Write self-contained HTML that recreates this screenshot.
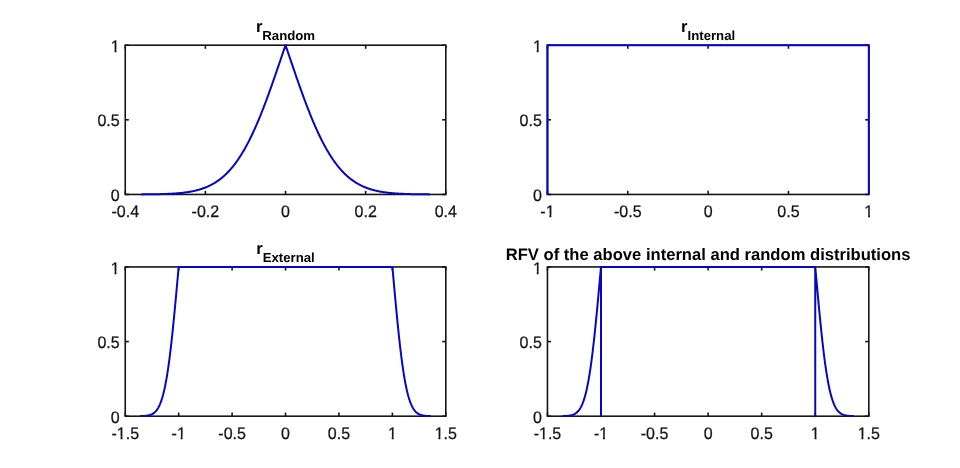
<!DOCTYPE html>
<html><head><meta charset="utf-8"><style>
html,body{margin:0;padding:0;background:#fff;width:960px;height:468px;overflow:hidden}
svg{display:block}
.k{stroke:#151515;stroke-width:1.6}
.bx{fill:none;stroke:#151515;stroke-width:1.6}
.b{fill:none;stroke:#0606c8;stroke-width:2.0;stroke-linejoin:round}
.tk{font-family:"Liberation Sans",sans-serif;font-size:16.0px;font-kerning:none;text-rendering:geometricPrecision;fill:#151515;stroke:#151515;stroke-width:0.25}
.ttp{fill:#000}
.tt{font-family:"Liberation Sans",sans-serif;font-size:16.6px;font-weight:bold;font-kerning:none;text-rendering:geometricPrecision;fill:#000}
.txt{opacity:0.999}
.sub{font-size:13.2px}
</style></head><body>
<svg width="960" height="468" viewBox="0 0 960 468">
<defs><clipPath id="c0"><path d="M-12.90 -20.00H4.00V6.00H-12.90ZM-8.88 -2.10H-5.09V3.00H-8.88ZM-3.24 -2.10H0.42V3.00H-3.24Z" clip-rule="evenodd"/></clipPath><clipPath id="c1"><path d="M-11.11 -20.00H11.11V6.00H-11.11ZM-1.77 -2.10H2.02V3.00H-1.77ZM3.87 -2.10H7.53V3.00H3.87Z" clip-rule="evenodd"/></clipPath><clipPath id="c2"><path d="M-8.45 -20.00H8.45V6.00H-8.45ZM-4.43 -2.10H-0.65V3.00H-4.43ZM1.21 -2.10H4.87V3.00H1.21Z" clip-rule="evenodd"/></clipPath><clipPath id="c3"><path d="M-12.90 -20.00H4.00V6.00H-12.90ZM-8.88 -2.10H-5.09V3.00H-8.88ZM-3.24 -2.10H0.42V3.00H-3.24Z" clip-rule="evenodd"/></clipPath><clipPath id="c4"><path d="M-17.79 -20.00H17.79V6.00H-17.79ZM-8.44 -2.10H-4.65V3.00H-8.44ZM-2.80 -2.10H0.86V3.00H-2.80Z" clip-rule="evenodd"/></clipPath><clipPath id="c5"><path d="M-11.11 -20.00H11.11V6.00H-11.11ZM-1.77 -2.10H2.02V3.00H-1.77ZM3.87 -2.10H7.53V3.00H3.87Z" clip-rule="evenodd"/></clipPath><clipPath id="c6"><path d="M-8.45 -20.00H8.45V6.00H-8.45ZM-4.43 -2.10H-0.65V3.00H-4.43ZM1.21 -2.10H4.87V3.00H1.21Z" clip-rule="evenodd"/></clipPath><clipPath id="c7"><path d="M-15.12 -20.00H15.12V6.00H-15.12ZM-11.10 -2.10H-7.32V3.00H-11.10ZM-5.46 -2.10H-1.80V3.00H-5.46Z" clip-rule="evenodd"/></clipPath><clipPath id="c8"><path d="M-12.90 -20.00H4.00V6.00H-12.90ZM-8.88 -2.10H-5.09V3.00H-8.88ZM-3.24 -2.10H0.42V3.00H-3.24Z" clip-rule="evenodd"/></clipPath><clipPath id="c9"><path d="M-17.79 -20.00H17.79V6.00H-17.79ZM-8.44 -2.10H-4.65V3.00H-8.44ZM-2.80 -2.10H0.86V3.00H-2.80Z" clip-rule="evenodd"/></clipPath><clipPath id="c10"><path d="M-11.11 -20.00H11.11V6.00H-11.11ZM-1.77 -2.10H2.02V3.00H-1.77ZM3.87 -2.10H7.53V3.00H3.87Z" clip-rule="evenodd"/></clipPath><clipPath id="c11"><path d="M-8.45 -20.00H8.45V6.00H-8.45ZM-4.43 -2.10H-0.65V3.00H-4.43ZM1.21 -2.10H4.87V3.00H1.21Z" clip-rule="evenodd"/></clipPath><clipPath id="c12"><path d="M-15.12 -20.00H15.12V6.00H-15.12ZM-11.10 -2.10H-7.32V3.00H-11.10ZM-5.46 -2.10H-1.80V3.00H-5.46Z" clip-rule="evenodd"/></clipPath><clipPath id="c13"><path d="M-12.90 -20.00H4.00V6.00H-12.90ZM-8.88 -2.10H-5.09V3.00H-8.88ZM-3.24 -2.10H0.42V3.00H-3.24Z" clip-rule="evenodd"/></clipPath></defs>
<rect width="960" height="468" fill="#fff"/>
<rect x="125.25" y="45.2" width="320.55" height="149.25" class="bx"/>
<line x1="125.25" y1="194.45" x2="125.25" y2="190.85" class="k"/>
<line x1="125.25" y1="45.2" x2="125.25" y2="48.800000000000004" class="k"/>
<line x1="205.39" y1="194.45" x2="205.39" y2="190.85" class="k"/>
<line x1="205.39" y1="45.2" x2="205.39" y2="48.800000000000004" class="k"/>
<line x1="285.52" y1="194.45" x2="285.52" y2="190.85" class="k"/>
<line x1="285.52" y1="45.2" x2="285.52" y2="48.800000000000004" class="k"/>
<line x1="365.66" y1="194.45" x2="365.66" y2="190.85" class="k"/>
<line x1="365.66" y1="45.2" x2="365.66" y2="48.800000000000004" class="k"/>
<line x1="445.80" y1="194.45" x2="445.80" y2="190.85" class="k"/>
<line x1="445.80" y1="45.2" x2="445.80" y2="48.800000000000004" class="k"/>
<line x1="125.25" y1="194.45" x2="128.85" y2="194.45" class="k"/>
<line x1="445.8" y1="194.45" x2="442.2" y2="194.45" class="k"/>
<line x1="125.25" y1="119.82" x2="128.85" y2="119.82" class="k"/>
<line x1="445.8" y1="119.82" x2="442.2" y2="119.82" class="k"/>
<line x1="125.25" y1="45.20" x2="128.85" y2="45.20" class="k"/>
<line x1="445.8" y1="45.20" x2="442.2" y2="45.20" class="k"/>
<rect x="547.45" y="45.2" width="321.3499999999999" height="149.25" class="bx"/>
<line x1="547.45" y1="194.45" x2="547.45" y2="190.85" class="k"/>
<line x1="547.45" y1="45.2" x2="547.45" y2="48.800000000000004" class="k"/>
<line x1="627.79" y1="194.45" x2="627.79" y2="190.85" class="k"/>
<line x1="627.79" y1="45.2" x2="627.79" y2="48.800000000000004" class="k"/>
<line x1="708.12" y1="194.45" x2="708.12" y2="190.85" class="k"/>
<line x1="708.12" y1="45.2" x2="708.12" y2="48.800000000000004" class="k"/>
<line x1="788.46" y1="194.45" x2="788.46" y2="190.85" class="k"/>
<line x1="788.46" y1="45.2" x2="788.46" y2="48.800000000000004" class="k"/>
<line x1="868.80" y1="194.45" x2="868.80" y2="190.85" class="k"/>
<line x1="868.80" y1="45.2" x2="868.80" y2="48.800000000000004" class="k"/>
<line x1="547.45" y1="194.45" x2="551.0500000000001" y2="194.45" class="k"/>
<line x1="868.8" y1="194.45" x2="865.1999999999999" y2="194.45" class="k"/>
<line x1="547.45" y1="119.82" x2="551.0500000000001" y2="119.82" class="k"/>
<line x1="868.8" y1="119.82" x2="865.1999999999999" y2="119.82" class="k"/>
<line x1="547.45" y1="45.20" x2="551.0500000000001" y2="45.20" class="k"/>
<line x1="868.8" y1="45.20" x2="865.1999999999999" y2="45.20" class="k"/>
<rect x="125.25" y="266.95" width="320.55" height="149.25" class="bx"/>
<line x1="125.25" y1="416.2" x2="125.25" y2="412.59999999999997" class="k"/>
<line x1="125.25" y1="266.95" x2="125.25" y2="270.55" class="k"/>
<line x1="178.68" y1="416.2" x2="178.68" y2="412.59999999999997" class="k"/>
<line x1="178.68" y1="266.95" x2="178.68" y2="270.55" class="k"/>
<line x1="232.10" y1="416.2" x2="232.10" y2="412.59999999999997" class="k"/>
<line x1="232.10" y1="266.95" x2="232.10" y2="270.55" class="k"/>
<line x1="285.52" y1="416.2" x2="285.52" y2="412.59999999999997" class="k"/>
<line x1="285.52" y1="266.95" x2="285.52" y2="270.55" class="k"/>
<line x1="338.95" y1="416.2" x2="338.95" y2="412.59999999999997" class="k"/>
<line x1="338.95" y1="266.95" x2="338.95" y2="270.55" class="k"/>
<line x1="392.38" y1="416.2" x2="392.38" y2="412.59999999999997" class="k"/>
<line x1="392.38" y1="266.95" x2="392.38" y2="270.55" class="k"/>
<line x1="445.80" y1="416.2" x2="445.80" y2="412.59999999999997" class="k"/>
<line x1="445.80" y1="266.95" x2="445.80" y2="270.55" class="k"/>
<line x1="125.25" y1="416.20" x2="128.85" y2="416.20" class="k"/>
<line x1="445.8" y1="416.20" x2="442.2" y2="416.20" class="k"/>
<line x1="125.25" y1="341.57" x2="128.85" y2="341.57" class="k"/>
<line x1="445.8" y1="341.57" x2="442.2" y2="341.57" class="k"/>
<line x1="125.25" y1="266.95" x2="128.85" y2="266.95" class="k"/>
<line x1="445.8" y1="266.95" x2="442.2" y2="266.95" class="k"/>
<rect x="547.45" y="266.95" width="321.3499999999999" height="149.25" class="bx"/>
<line x1="547.45" y1="416.2" x2="547.45" y2="412.59999999999997" class="k"/>
<line x1="547.45" y1="266.95" x2="547.45" y2="270.55" class="k"/>
<line x1="601.01" y1="416.2" x2="601.01" y2="412.59999999999997" class="k"/>
<line x1="601.01" y1="266.95" x2="601.01" y2="270.55" class="k"/>
<line x1="654.57" y1="416.2" x2="654.57" y2="412.59999999999997" class="k"/>
<line x1="654.57" y1="266.95" x2="654.57" y2="270.55" class="k"/>
<line x1="708.12" y1="416.2" x2="708.12" y2="412.59999999999997" class="k"/>
<line x1="708.12" y1="266.95" x2="708.12" y2="270.55" class="k"/>
<line x1="761.68" y1="416.2" x2="761.68" y2="412.59999999999997" class="k"/>
<line x1="761.68" y1="266.95" x2="761.68" y2="270.55" class="k"/>
<line x1="815.24" y1="416.2" x2="815.24" y2="412.59999999999997" class="k"/>
<line x1="815.24" y1="266.95" x2="815.24" y2="270.55" class="k"/>
<line x1="868.80" y1="416.2" x2="868.80" y2="412.59999999999997" class="k"/>
<line x1="868.80" y1="266.95" x2="868.80" y2="270.55" class="k"/>
<line x1="547.45" y1="416.20" x2="551.0500000000001" y2="416.20" class="k"/>
<line x1="868.8" y1="416.20" x2="865.1999999999999" y2="416.20" class="k"/>
<line x1="547.45" y1="341.57" x2="551.0500000000001" y2="341.57" class="k"/>
<line x1="868.8" y1="341.57" x2="865.1999999999999" y2="341.57" class="k"/>
<line x1="547.45" y1="266.95" x2="551.0500000000001" y2="266.95" class="k"/>
<line x1="868.8" y1="266.95" x2="865.1999999999999" y2="266.95" class="k"/>
<polyline points="141.28,194.38 142.00,194.38 142.72,194.37 143.44,194.37 144.16,194.36 144.88,194.36 145.60,194.35 146.33,194.35 147.05,194.34 147.77,194.33 148.49,194.33 149.21,194.32 149.93,194.31 150.65,194.30 151.37,194.29 152.10,194.28 152.82,194.27 153.54,194.26 154.26,194.25 154.98,194.24 155.70,194.22 156.42,194.21 157.14,194.20 157.87,194.18 158.59,194.17 159.31,194.15 160.03,194.13 160.75,194.11 161.47,194.09 162.19,194.07 162.91,194.05 163.64,194.03 164.36,194.00 165.08,193.98 165.80,193.95 166.52,193.92 167.24,193.90 167.96,193.86 168.68,193.83 169.41,193.80 170.13,193.76 170.85,193.72 171.57,193.69 172.29,193.64 173.01,193.60 173.73,193.56 174.45,193.51 175.18,193.46 175.90,193.41 176.62,193.35 177.34,193.29 178.06,193.23 178.78,193.17 179.50,193.10 180.22,193.04 180.95,192.96 181.67,192.89 182.39,192.81 183.11,192.73 183.83,192.64 184.55,192.55 185.27,192.46 185.99,192.36 186.72,192.26 187.44,192.15 188.16,192.04 188.88,191.92 189.60,191.80 190.32,191.68 191.04,191.55 191.76,191.41 192.49,191.27 193.21,191.12 193.93,190.96 194.65,190.80 195.37,190.64 196.09,190.46 196.81,190.28 197.53,190.09 198.26,189.90 198.98,189.70 199.70,189.49 200.42,189.27 201.14,189.04 201.86,188.81 202.58,188.56 203.30,188.31 204.03,188.05 204.75,187.78 205.47,187.49 206.19,187.20 206.91,186.90 207.63,186.59 208.35,186.26 209.07,185.93 209.80,185.58 210.52,185.22 211.24,184.85 211.96,184.47 212.68,184.07 213.40,183.66 214.12,183.24 214.84,182.81 215.56,182.36 216.29,181.89 217.01,181.41 217.73,180.92 218.45,180.41 219.17,179.89 219.89,179.35 220.61,178.79 221.33,178.22 222.06,177.63 222.78,177.02 223.50,176.39 224.22,175.75 224.94,175.09 225.66,174.41 226.38,173.71 227.10,173.00 227.83,172.26 228.55,171.50 229.27,170.73 229.99,169.93 230.71,169.11 231.43,168.28 232.15,167.42 232.87,166.54 233.60,165.64 234.32,164.71 235.04,163.77 235.76,162.80 236.48,161.81 237.20,160.80 237.92,159.76 238.64,158.70 239.37,157.62 240.09,156.52 240.81,155.39 241.53,154.23 242.25,153.06 242.97,151.85 243.69,150.63 244.41,149.38 245.14,148.11 245.86,146.81 246.58,145.49 247.30,144.14 248.02,142.77 248.74,141.37 249.46,139.95 250.18,138.51 250.91,137.04 251.63,135.55 252.35,134.03 253.07,132.49 253.79,130.93 254.51,129.34 255.23,127.73 255.95,126.10 256.68,124.44 257.40,122.76 258.12,121.06 258.84,119.34 259.56,117.59 260.28,115.83 261.00,114.04 261.72,112.23 262.45,110.40 263.17,108.55 263.89,106.69 264.61,104.80 265.33,102.90 266.05,100.98 266.77,99.04 267.49,97.09 268.22,95.12 268.94,93.13 269.66,91.13 270.38,89.12 271.10,87.10 271.82,85.06 272.54,83.01 273.26,80.95 273.99,78.88 274.71,76.80 275.43,74.72 276.15,72.62 276.87,70.52 277.59,68.42 278.31,66.31 279.03,64.20 279.76,62.08 280.48,59.97 281.20,57.85 281.92,55.73 282.64,53.62 283.36,51.51 284.08,49.40 284.80,47.30 285.52,45.20 286.25,47.30 286.97,49.40 287.69,51.51 288.41,53.62 289.13,55.73 289.85,57.85 290.57,59.97 291.29,62.08 292.02,64.20 292.74,66.31 293.46,68.42 294.18,70.52 294.90,72.62 295.62,74.72 296.34,76.80 297.06,78.88 297.79,80.95 298.51,83.01 299.23,85.06 299.95,87.10 300.67,89.12 301.39,91.13 302.11,93.13 302.83,95.12 303.56,97.09 304.28,99.04 305.00,100.98 305.72,102.90 306.44,104.80 307.16,106.69 307.88,108.55 308.60,110.40 309.33,112.23 310.05,114.04 310.77,115.83 311.49,117.59 312.21,119.34 312.93,121.06 313.65,122.76 314.37,124.44 315.10,126.10 315.82,127.73 316.54,129.34 317.26,130.93 317.98,132.49 318.70,134.03 319.42,135.55 320.14,137.04 320.87,138.51 321.59,139.95 322.31,141.37 323.03,142.77 323.75,144.14 324.47,145.49 325.19,146.81 325.91,148.11 326.64,149.38 327.36,150.63 328.08,151.85 328.80,153.06 329.52,154.23 330.24,155.39 330.96,156.52 331.68,157.62 332.41,158.70 333.13,159.76 333.85,160.80 334.57,161.81 335.29,162.80 336.01,163.77 336.73,164.71 337.45,165.64 338.18,166.54 338.90,167.42 339.62,168.28 340.34,169.11 341.06,169.93 341.78,170.73 342.50,171.50 343.22,172.26 343.95,173.00 344.67,173.71 345.39,174.41 346.11,175.09 346.83,175.75 347.55,176.39 348.27,177.02 348.99,177.63 349.72,178.22 350.44,178.79 351.16,179.35 351.88,179.89 352.60,180.41 353.32,180.92 354.04,181.41 354.76,181.89 355.49,182.36 356.21,182.81 356.93,183.24 357.65,183.66 358.37,184.07 359.09,184.47 359.81,184.85 360.53,185.22 361.25,185.58 361.98,185.93 362.70,186.26 363.42,186.59 364.14,186.90 364.86,187.20 365.58,187.49 366.30,187.78 367.02,188.05 367.75,188.31 368.47,188.56 369.19,188.81 369.91,189.04 370.63,189.27 371.35,189.49 372.07,189.70 372.79,189.90 373.52,190.09 374.24,190.28 374.96,190.46 375.68,190.64 376.40,190.80 377.12,190.96 377.84,191.12 378.56,191.27 379.29,191.41 380.01,191.55 380.73,191.68 381.45,191.80 382.17,191.92 382.89,192.04 383.61,192.15 384.33,192.26 385.06,192.36 385.78,192.46 386.50,192.55 387.22,192.64 387.94,192.73 388.66,192.81 389.38,192.89 390.10,192.96 390.83,193.04 391.55,193.10 392.27,193.17 392.99,193.23 393.71,193.29 394.43,193.35 395.15,193.41 395.87,193.46 396.60,193.51 397.32,193.56 398.04,193.60 398.76,193.64 399.48,193.69 400.20,193.72 400.92,193.76 401.64,193.80 402.37,193.83 403.09,193.86 403.81,193.90 404.53,193.92 405.25,193.95 405.97,193.98 406.69,194.00 407.41,194.03 408.14,194.05 408.86,194.07 409.58,194.09 410.30,194.11 411.02,194.13 411.74,194.15 412.46,194.17 413.18,194.18 413.91,194.20 414.63,194.21 415.35,194.22 416.07,194.24 416.79,194.25 417.51,194.26 418.23,194.27 418.95,194.28 419.68,194.29 420.40,194.30 421.12,194.31 421.84,194.32 422.56,194.33 423.28,194.33 424.00,194.34 424.72,194.35 425.45,194.35 426.17,194.36 426.89,194.36 427.61,194.37 428.33,194.37 429.05,194.38 429.77,194.38" class="b"/>
<polyline points="547.45,194.45 547.45,45.20 868.80,45.20 868.80,194.45" class="b"/>
<polyline points="140.21,416.13 140.40,416.13 140.59,416.12 140.79,416.12 140.98,416.11 141.17,416.11 141.36,416.10 141.56,416.10 141.75,416.09 141.94,416.08 142.13,416.08 142.32,416.07 142.52,416.06 142.71,416.05 142.90,416.04 143.09,416.03 143.29,416.02 143.48,416.01 143.67,416.00 143.86,415.99 144.06,415.97 144.25,415.96 144.44,415.95 144.63,415.93 144.82,415.92 145.02,415.90 145.21,415.88 145.40,415.86 145.59,415.84 145.79,415.82 145.98,415.80 146.17,415.78 146.36,415.75 146.56,415.73 146.75,415.70 146.94,415.67 147.13,415.65 147.33,415.61 147.52,415.58 147.71,415.55 147.90,415.51 148.09,415.47 148.29,415.44 148.48,415.39 148.67,415.35 148.86,415.31 149.06,415.26 149.25,415.21 149.44,415.16 149.63,415.10 149.83,415.04 150.02,414.98 150.21,414.92 150.40,414.85 150.59,414.79 150.79,414.71 150.98,414.64 151.17,414.56 151.36,414.48 151.56,414.39 151.75,414.30 151.94,414.21 152.13,414.11 152.33,414.01 152.52,413.90 152.71,413.79 152.90,413.67 153.10,413.55 153.29,413.43 153.48,413.30 153.67,413.16 153.86,413.02 154.06,412.87 154.25,412.71 154.44,412.55 154.63,412.39 154.83,412.21 155.02,412.03 155.21,411.84 155.40,411.65 155.60,411.45 155.79,411.24 155.98,411.02 156.17,410.79 156.36,410.56 156.56,410.31 156.75,410.06 156.94,409.80 157.13,409.53 157.33,409.24 157.52,408.95 157.71,408.65 157.90,408.34 158.10,408.01 158.29,407.68 158.48,407.33 158.67,406.97 158.87,406.60 159.06,406.22 159.25,405.82 159.44,405.41 159.63,404.99 159.83,404.56 160.02,404.11 160.21,403.64 160.40,403.16 160.60,402.67 160.79,402.16 160.98,401.64 161.17,401.10 161.37,400.54 161.56,399.97 161.75,399.38 161.94,398.77 162.13,398.14 162.33,397.50 162.52,396.84 162.71,396.16 162.90,395.46 163.10,394.75 163.29,394.01 163.48,393.25 163.67,392.48 163.87,391.68 164.06,390.86 164.25,390.03 164.44,389.17 164.63,388.29 164.83,387.39 165.02,386.46 165.21,385.52 165.40,384.55 165.60,383.56 165.79,382.55 165.98,381.51 166.17,380.45 166.37,379.37 166.56,378.27 166.75,377.14 166.94,375.98 167.14,374.81 167.33,373.60 167.52,372.38 167.71,371.13 167.90,369.86 168.10,368.56 168.29,367.24 168.48,365.89 168.67,364.52 168.87,363.12 169.06,361.70 169.25,360.26 169.44,358.79 169.64,357.30 169.83,355.78 170.02,354.24 170.21,352.68 170.40,351.09 170.60,349.48 170.79,347.85 170.98,346.19 171.17,344.51 171.37,342.81 171.56,341.09 171.75,339.34 171.94,337.58 172.14,335.79 172.33,333.98 172.52,332.15 172.71,330.30 172.91,328.44 173.10,326.55 173.29,324.65 173.48,322.73 173.67,320.79 173.87,318.84 174.06,316.87 174.25,314.88 174.44,312.88 174.64,310.87 174.83,308.85 175.02,306.81 175.21,304.76 175.41,302.70 175.60,300.63 175.79,298.55 175.98,296.47 176.17,294.37 176.37,292.27 176.56,290.17 176.75,288.06 176.94,285.95 177.14,283.83 177.33,281.72 177.52,279.60 177.71,277.48 177.91,275.37 178.10,273.26 178.29,271.15 178.48,269.05 178.68,266.95 392.38,266.95 392.38,266.95 392.57,269.05 392.76,271.15 392.95,273.26 393.14,275.37 393.34,277.48 393.53,279.60 393.72,281.72 393.91,283.83 394.11,285.95 394.30,288.06 394.49,290.17 394.68,292.27 394.88,294.37 395.07,296.47 395.26,298.55 395.45,300.63 395.64,302.70 395.84,304.76 396.03,306.81 396.22,308.85 396.41,310.87 396.61,312.88 396.80,314.88 396.99,316.87 397.18,318.84 397.38,320.79 397.57,322.73 397.76,324.65 397.95,326.55 398.14,328.44 398.34,330.30 398.53,332.15 398.72,333.98 398.91,335.79 399.11,337.58 399.30,339.34 399.49,341.09 399.68,342.81 399.88,344.51 400.07,346.19 400.26,347.85 400.45,349.48 400.65,351.09 400.84,352.68 401.03,354.24 401.22,355.78 401.41,357.30 401.61,358.79 401.80,360.26 401.99,361.70 402.18,363.12 402.38,364.52 402.57,365.89 402.76,367.24 402.95,368.56 403.15,369.86 403.34,371.13 403.53,372.38 403.72,373.60 403.91,374.81 404.11,375.98 404.30,377.14 404.49,378.27 404.68,379.37 404.88,380.45 405.07,381.51 405.26,382.55 405.45,383.56 405.65,384.55 405.84,385.52 406.03,386.46 406.22,387.39 406.42,388.29 406.61,389.17 406.80,390.03 406.99,390.86 407.18,391.68 407.38,392.48 407.57,393.25 407.76,394.01 407.95,394.75 408.15,395.46 408.34,396.16 408.53,396.84 408.72,397.50 408.92,398.14 409.11,398.77 409.30,399.38 409.49,399.97 409.68,400.54 409.88,401.10 410.07,401.64 410.26,402.16 410.45,402.67 410.65,403.16 410.84,403.64 411.03,404.11 411.22,404.56 411.42,404.99 411.61,405.41 411.80,405.82 411.99,406.22 412.18,406.60 412.38,406.97 412.57,407.33 412.76,407.68 412.95,408.01 413.15,408.34 413.34,408.65 413.53,408.95 413.72,409.24 413.92,409.53 414.11,409.80 414.30,410.06 414.49,410.31 414.69,410.56 414.88,410.79 415.07,411.02 415.26,411.24 415.45,411.45 415.65,411.65 415.84,411.84 416.03,412.03 416.22,412.21 416.42,412.39 416.61,412.55 416.80,412.71 416.99,412.87 417.19,413.02 417.38,413.16 417.57,413.30 417.76,413.43 417.95,413.55 418.15,413.67 418.34,413.79 418.53,413.90 418.72,414.01 418.92,414.11 419.11,414.21 419.30,414.30 419.49,414.39 419.69,414.48 419.88,414.56 420.07,414.64 420.26,414.71 420.46,414.79 420.65,414.85 420.84,414.92 421.03,414.98 421.22,415.04 421.42,415.10 421.61,415.16 421.80,415.21 421.99,415.26 422.19,415.31 422.38,415.35 422.57,415.39 422.76,415.44 422.96,415.47 423.15,415.51 423.34,415.55 423.53,415.58 423.72,415.61 423.92,415.65 424.11,415.67 424.30,415.70 424.49,415.73 424.69,415.75 424.88,415.78 425.07,415.80 425.26,415.82 425.46,415.84 425.65,415.86 425.84,415.88 426.03,415.90 426.23,415.92 426.42,415.93 426.61,415.95 426.80,415.96 426.99,415.97 427.19,415.99 427.38,416.00 427.57,416.01 427.76,416.02 427.96,416.03 428.15,416.04 428.34,416.05 428.53,416.06 428.73,416.07 428.92,416.08 429.11,416.08 429.30,416.09 429.49,416.10 429.69,416.10 429.88,416.11 430.07,416.11 430.26,416.12 430.46,416.12 430.65,416.13 430.84,416.13" class="b"/>
<polyline points="562.45,416.13 562.64,416.13 562.83,416.12 563.02,416.12 563.22,416.11 563.41,416.11 563.60,416.10 563.80,416.10 563.99,416.09 564.18,416.08 564.37,416.08 564.57,416.07 564.76,416.06 564.95,416.05 565.15,416.04 565.34,416.03 565.53,416.02 565.72,416.01 565.92,416.00 566.11,415.99 566.30,415.97 566.50,415.96 566.69,415.95 566.88,415.93 567.07,415.92 567.27,415.90 567.46,415.88 567.65,415.86 567.85,415.84 568.04,415.82 568.23,415.80 568.42,415.78 568.62,415.75 568.81,415.73 569.00,415.70 569.19,415.67 569.39,415.65 569.58,415.61 569.77,415.58 569.97,415.55 570.16,415.51 570.35,415.47 570.54,415.44 570.74,415.39 570.93,415.35 571.12,415.31 571.32,415.26 571.51,415.21 571.70,415.16 571.89,415.10 572.09,415.04 572.28,414.98 572.47,414.92 572.67,414.85 572.86,414.79 573.05,414.71 573.24,414.64 573.44,414.56 573.63,414.48 573.82,414.39 574.01,414.30 574.21,414.21 574.40,414.11 574.59,414.01 574.79,413.90 574.98,413.79 575.17,413.67 575.36,413.55 575.56,413.43 575.75,413.30 575.94,413.16 576.14,413.02 576.33,412.87 576.52,412.71 576.71,412.55 576.91,412.39 577.10,412.21 577.29,412.03 577.49,411.84 577.68,411.65 577.87,411.45 578.06,411.24 578.26,411.02 578.45,410.79 578.64,410.56 578.84,410.31 579.03,410.06 579.22,409.80 579.41,409.53 579.61,409.24 579.80,408.95 579.99,408.65 580.18,408.34 580.38,408.01 580.57,407.68 580.76,407.33 580.96,406.97 581.15,406.60 581.34,406.22 581.53,405.82 581.73,405.41 581.92,404.99 582.11,404.56 582.31,404.11 582.50,403.64 582.69,403.16 582.88,402.67 583.08,402.16 583.27,401.64 583.46,401.10 583.66,400.54 583.85,399.97 584.04,399.38 584.23,398.77 584.43,398.14 584.62,397.50 584.81,396.84 585.01,396.16 585.20,395.46 585.39,394.75 585.58,394.01 585.78,393.25 585.97,392.48 586.16,391.68 586.35,390.86 586.55,390.03 586.74,389.17 586.93,388.29 587.13,387.39 587.32,386.46 587.51,385.52 587.70,384.55 587.90,383.56 588.09,382.55 588.28,381.51 588.48,380.45 588.67,379.37 588.86,378.27 589.05,377.14 589.25,375.98 589.44,374.81 589.63,373.60 589.83,372.38 590.02,371.13 590.21,369.86 590.40,368.56 590.60,367.24 590.79,365.89 590.98,364.52 591.18,363.12 591.37,361.70 591.56,360.26 591.75,358.79 591.95,357.30 592.14,355.78 592.33,354.24 592.52,352.68 592.72,351.09 592.91,349.48 593.10,347.85 593.30,346.19 593.49,344.51 593.68,342.81 593.87,341.09 594.07,339.34 594.26,337.58 594.45,335.79 594.65,333.98 594.84,332.15 595.03,330.30 595.22,328.44 595.42,326.55 595.61,324.65 595.80,322.73 596.00,320.79 596.19,318.84 596.38,316.87 596.57,314.88 596.77,312.88 596.96,310.87 597.15,308.85 597.34,306.81 597.54,304.76 597.73,302.70 597.92,300.63 598.12,298.55 598.31,296.47 598.50,294.37 598.69,292.27 598.89,290.17 599.08,288.06 599.27,285.95 599.47,283.83 599.66,281.72 599.85,279.60 600.04,277.48 600.24,275.37 600.43,273.26 600.62,271.15 600.82,269.05 601.01,266.95 601.01,416.20 601.01,266.95 815.24,266.95 815.24,416.20 815.24,266.95 815.43,269.05 815.63,271.15 815.82,273.26 816.01,275.37 816.21,277.48 816.40,279.60 816.59,281.72 816.78,283.83 816.98,285.95 817.17,288.06 817.36,290.17 817.56,292.27 817.75,294.37 817.94,296.47 818.13,298.55 818.33,300.63 818.52,302.70 818.71,304.76 818.91,306.81 819.10,308.85 819.29,310.87 819.48,312.88 819.68,314.88 819.87,316.87 820.06,318.84 820.25,320.79 820.45,322.73 820.64,324.65 820.83,326.55 821.03,328.44 821.22,330.30 821.41,332.15 821.60,333.98 821.80,335.79 821.99,337.58 822.18,339.34 822.38,341.09 822.57,342.81 822.76,344.51 822.95,346.19 823.15,347.85 823.34,349.48 823.53,351.09 823.73,352.68 823.92,354.24 824.11,355.78 824.30,357.30 824.50,358.79 824.69,360.26 824.88,361.70 825.07,363.12 825.27,364.52 825.46,365.89 825.65,367.24 825.85,368.56 826.04,369.86 826.23,371.13 826.42,372.38 826.62,373.60 826.81,374.81 827.00,375.98 827.20,377.14 827.39,378.27 827.58,379.37 827.77,380.45 827.97,381.51 828.16,382.55 828.35,383.56 828.55,384.55 828.74,385.52 828.93,386.46 829.12,387.39 829.32,388.29 829.51,389.17 829.70,390.03 829.90,390.86 830.09,391.68 830.28,392.48 830.47,393.25 830.67,394.01 830.86,394.75 831.05,395.46 831.24,396.16 831.44,396.84 831.63,397.50 831.82,398.14 832.02,398.77 832.21,399.38 832.40,399.97 832.59,400.54 832.79,401.10 832.98,401.64 833.17,402.16 833.37,402.67 833.56,403.16 833.75,403.64 833.94,404.11 834.14,404.56 834.33,404.99 834.52,405.41 834.72,405.82 834.91,406.22 835.10,406.60 835.29,406.97 835.49,407.33 835.68,407.68 835.87,408.01 836.07,408.34 836.26,408.65 836.45,408.95 836.64,409.24 836.84,409.53 837.03,409.80 837.22,410.06 837.41,410.31 837.61,410.56 837.80,410.79 837.99,411.02 838.19,411.24 838.38,411.45 838.57,411.65 838.76,411.84 838.96,412.03 839.15,412.21 839.34,412.39 839.54,412.55 839.73,412.71 839.92,412.87 840.11,413.02 840.31,413.16 840.50,413.30 840.69,413.43 840.89,413.55 841.08,413.67 841.27,413.79 841.46,413.90 841.66,414.01 841.85,414.11 842.04,414.21 842.24,414.30 842.43,414.39 842.62,414.48 842.81,414.56 843.01,414.64 843.20,414.71 843.39,414.79 843.58,414.85 843.78,414.92 843.97,414.98 844.16,415.04 844.36,415.10 844.55,415.16 844.74,415.21 844.93,415.26 845.13,415.31 845.32,415.35 845.51,415.39 845.71,415.44 845.90,415.47 846.09,415.51 846.28,415.55 846.48,415.58 846.67,415.61 846.86,415.65 847.06,415.67 847.25,415.70 847.44,415.73 847.63,415.75 847.83,415.78 848.02,415.80 848.21,415.82 848.40,415.84 848.60,415.86 848.79,415.88 848.98,415.90 849.18,415.92 849.37,415.93 849.56,415.95 849.75,415.96 849.95,415.97 850.14,415.99 850.33,416.00 850.53,416.01 850.72,416.02 850.91,416.03 851.10,416.04 851.30,416.05 851.49,416.06 851.68,416.07 851.88,416.08 852.07,416.08 852.26,416.09 852.45,416.10 852.65,416.10 852.84,416.11 853.03,416.11 853.23,416.12 853.42,416.12 853.61,416.13 853.80,416.13" class="b"/>
<g class="txt">
<text transform="translate(125.25 216.95) scale(1 1.0405)" text-anchor="middle" class="tk">-0.4</text>
<text transform="translate(205.39 216.95) scale(1 1.0405)" text-anchor="middle" class="tk">-0.2</text>
<text transform="translate(285.52 216.95) scale(1 1.0405)" text-anchor="middle" class="tk">0</text>
<text transform="translate(365.66 216.95) scale(1 1.0405)" text-anchor="middle" class="tk">0.2</text>
<text transform="translate(445.80 216.95) scale(1 1.0405)" text-anchor="middle" class="tk">0.4</text>
<text transform="translate(119.65 201.05) scale(1 1.0405)" text-anchor="end" class="tk">0</text>
<text transform="translate(119.65 126.42) scale(1 1.0405)" text-anchor="end" class="tk">0.5</text>
<text transform="translate(119.65 51.80) scale(1 1.0405)" text-anchor="end" class="tk" clip-path="url(#c0)">1</text>
<text transform="translate(547.45 216.95) scale(1 1.0405)" text-anchor="middle" class="tk" clip-path="url(#c1)">-1</text>
<text transform="translate(627.79 216.95) scale(1 1.0405)" text-anchor="middle" class="tk">-0.5</text>
<text transform="translate(708.12 216.95) scale(1 1.0405)" text-anchor="middle" class="tk">0</text>
<text transform="translate(788.46 216.95) scale(1 1.0405)" text-anchor="middle" class="tk">0.5</text>
<text transform="translate(868.80 216.95) scale(1 1.0405)" text-anchor="middle" class="tk" clip-path="url(#c2)">1</text>
<text transform="translate(541.85 201.05) scale(1 1.0405)" text-anchor="end" class="tk">0</text>
<text transform="translate(541.85 126.42) scale(1 1.0405)" text-anchor="end" class="tk">0.5</text>
<text transform="translate(541.85 51.80) scale(1 1.0405)" text-anchor="end" class="tk" clip-path="url(#c3)">1</text>
<text transform="translate(125.25 438.70) scale(1 1.0405)" text-anchor="middle" class="tk" clip-path="url(#c4)">-1.5</text>
<text transform="translate(178.68 438.70) scale(1 1.0405)" text-anchor="middle" class="tk" clip-path="url(#c5)">-1</text>
<text transform="translate(232.10 438.70) scale(1 1.0405)" text-anchor="middle" class="tk">-0.5</text>
<text transform="translate(285.52 438.70) scale(1 1.0405)" text-anchor="middle" class="tk">0</text>
<text transform="translate(338.95 438.70) scale(1 1.0405)" text-anchor="middle" class="tk">0.5</text>
<text transform="translate(392.38 438.70) scale(1 1.0405)" text-anchor="middle" class="tk" clip-path="url(#c6)">1</text>
<text transform="translate(445.80 438.70) scale(1 1.0405)" text-anchor="middle" class="tk" clip-path="url(#c7)">1.5</text>
<text transform="translate(119.65 422.80) scale(1 1.0405)" text-anchor="end" class="tk">0</text>
<text transform="translate(119.65 348.18) scale(1 1.0405)" text-anchor="end" class="tk">0.5</text>
<text transform="translate(119.65 273.55) scale(1 1.0405)" text-anchor="end" class="tk" clip-path="url(#c8)">1</text>
<text transform="translate(547.45 438.70) scale(1 1.0405)" text-anchor="middle" class="tk" clip-path="url(#c9)">-1.5</text>
<text transform="translate(601.01 438.70) scale(1 1.0405)" text-anchor="middle" class="tk" clip-path="url(#c10)">-1</text>
<text transform="translate(654.57 438.70) scale(1 1.0405)" text-anchor="middle" class="tk">-0.5</text>
<text transform="translate(708.12 438.70) scale(1 1.0405)" text-anchor="middle" class="tk">0</text>
<text transform="translate(761.68 438.70) scale(1 1.0405)" text-anchor="middle" class="tk">0.5</text>
<text transform="translate(815.24 438.70) scale(1 1.0405)" text-anchor="middle" class="tk" clip-path="url(#c11)">1</text>
<text transform="translate(868.80 438.70) scale(1 1.0405)" text-anchor="middle" class="tk" clip-path="url(#c12)">1.5</text>
<text transform="translate(541.85 422.80) scale(1 1.0405)" text-anchor="end" class="tk">0</text>
<text transform="translate(541.85 348.18) scale(1 1.0405)" text-anchor="end" class="tk">0.5</text>
<text transform="translate(541.85 273.55) scale(1 1.0405)" text-anchor="end" class="tk" clip-path="url(#c13)">1</text>
<text x="255.89" y="31.6" class="tt">r<tspan class="sub" dy="7.9">Random</tspan></text>
<text x="681.06" y="31.6" class="tt">r<tspan class="sub" dy="7.9">Internal</tspan></text>
<text x="256.25" y="253.6" class="tt">r<tspan class="sub" dy="7.9">External</tspan></text>
<text x="708.12" y="260" class="tt" text-anchor="middle">RFV of the above internal and random distributions</text>
</g></svg>
</body></html>
